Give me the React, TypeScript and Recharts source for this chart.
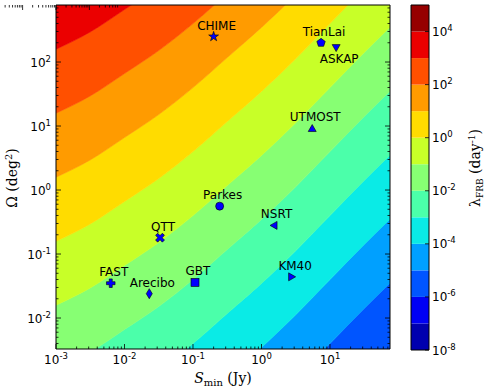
import React from 'react';
import { ComposedChart, Area, Scatter, XAxis, YAxis, BarChart, Bar } from 'recharts';

// log10 Ω (deg²) of the λ_FRB = 1 day⁻¹ contour, read along log10 S_min (Jy)
const contourLogSmin = [-3, -2.5, -2, -1.5, -1, -0.5, 0, 0.5, 1, 1.5, 1.9];
const unitRateLogOmega = [-0.8, -0.53, -0.18, 0.18, 0.6, 1.07, 1.54, 2.05, 2.6, 3.15, 3.57];

// lower edge (log10 day⁻¹) of each filled band, and its colour
const levels = [-8, -7, -6, -5, -4, -3, -2, -1, 0, 1, 2, 3, 4];
const levelColors = [
  '#0000af', '#0000f5', '#0055ff', '#00a0ff', '#0aebe6', '#4bffaa', '#87ff73',
  '#c8ff28', '#ffdc00', '#ff9b00', '#ff5000', '#eb0000', '#960000',
];

// telescopes
const telescopes = ['CHIME', 'TianLai', 'ASKAP', 'UTMOST', 'Parkes', 'QTT', 'NSRT', 'FAST', 'Arecibo', 'GBT', 'KM40'];
const sminJy = [0.2, 7.4, 12.3, 5.5, 0.245, 0.033, 1.5, 0.0063, 0.023, 0.107, 2.8];
const fovDeg2 = [250, 200, 165, 9.3, 0.56, 0.18, 0.28, 0.035, 0.024, 0.036, 0.044];
const markerKinds = ['star', 'pentagon', 'triDown', 'triUp', 'circle', 'x', 'triLeft', 'plus', 'diamond', 'square', 'triRight'];

const xDomain: [number, number] = [-3, 1.876];
const yDomain: [number, number] = [-2.484, 2.891];

const logTicks = (lo: number, hi: number) => {
  const out: number[] = [];
  for (let d = Math.floor(lo); d <= Math.ceil(hi); d++) {
    for (let m = 1; m < 10; m++) {
      const v = d + Math.log10(m);
      if (v >= lo - 1e-9 && v <= hi + 1e-9) out.push(v);
    }
  }
  return out;
};
const xTicks = logTicks(xDomain[0], xDomain[1]);
const yTicks = logTicks(yDomain[0], yDomain[1]);

const bandRows = contourLogSmin.map((x, i) => {
  const row: Record<string, number | number[]> = { x };
  levels.forEach((k, j) => {
    row[`b${j}`] = [k + unitRateLogOmega[i], k + 1 + unitRateLogOmega[i]];
  });
  return row;
});

const points = telescopes.map((name, i) => ({
  name,
  kind: markerKinds[i],
  x: Math.log10(sminJy[i]),
  y: Math.log10(fovDeg2[i]),
}));

const colorbarRow = [Object.fromEntries(levels.map((_, i) => [`c${i}`, 1]))];
const cbTicks = levels.map((_, i) => i).filter((i) => i % 2 === 0);

const SANS = 'DejaVu Sans, sans-serif';
const SERIF = 'DejaVu Serif, serif';

const isMajor = (v: number) => Math.abs(v - Math.round(v)) < 1e-6;

function Pow10({ x, y, exp, anchor }: { x: number; y: number; exp: number; anchor: 'start' | 'middle' | 'end' }) {
  return (
    <text x={x} y={y} textAnchor={anchor} fontFamily={SANS} fontSize={12} fill="#000">
      10
      <tspan dy={-5} fontSize={8.5}>
        {exp < 0 ? `-${-exp}` : `${exp}`}
      </tspan>
    </text>
  );
}

function AxisTick(props: any) {
  const { x, y, payload, side } = props;
  const v = payload.value as number;
  const major = isMajor(v);
  const len = major ? 5 : 2.5;
  let line;
  if (side === 'bottom') line = <line x1={x} x2={x} y1={y} y2={y - len} stroke="#000" strokeWidth={0.8} />;
  else if (side === 'top') line = <line x1={x} x2={x} y1={y} y2={y + len} stroke="#000" strokeWidth={0.8} />;
  else if (side === 'left') line = <line x1={x} x2={x + len} y1={y} y2={y} stroke="#000" strokeWidth={0.8} />;
  else line = <line x1={x} x2={x - len} y1={y} y2={y} stroke="#000" strokeWidth={0.8} />;
  return (
    <g>
      {line}
      {major && side === 'bottom' && <Pow10 x={x} y={y + 14.5} exp={Math.round(v)} anchor="middle" />}
      {major && side === 'left' && <Pow10 x={x - 5} y={y + 4.5} exp={Math.round(v)} anchor="end" />}
    </g>
  );
}

function CbTick(props: any) {
  const { x, y, payload } = props;
  return (
    <g>
      <line x1={x} x2={x - 4} y1={y} y2={y} stroke="#000" strokeWidth={0.8} />
      <Pow10 x={x + 3} y={y + 4.5} exp={levels[0] + payload.value} anchor="start" />
    </g>
  );
}

const XTitle = (props: any) => {
  const vb = props.viewBox;
  return (
    <text x={vb.x + vb.width / 2} y={vb.y + 34} textAnchor="middle" fontFamily={SERIF} fontSize={14} fill="#000">
      <tspan fontStyle="italic">S</tspan>
      <tspan fontSize={10} dy={3}>min</tspan>
      <tspan dy={-3}> (Jy)</tspan>
    </text>
  );
};

const YTitle = (props: any) => {
  const vb = props.viewBox;
  const cx = vb.x + 17;
  const cy = vb.y + vb.height / 2 + 1;
  return (
    <text x={cx} y={cy} transform={`rotate(-90 ${cx} ${cy})`} textAnchor="middle" fontFamily={SERIF} fontSize={14} fill="#000">
      Ω (deg
      <tspan dy={-5} fontSize={10}>2</tspan>
      <tspan dy={5}>)</tspan>
    </text>
  );
};

const CbTitle = (props: any) => {
  const vb = props.viewBox;
  const cx = vb.x + 51;
  const cy = 168;
  return (
    <text x={cx} y={cy} transform={`rotate(-90 ${cx} ${cy})`} textAnchor="middle" fontFamily={SERIF} fontSize={14} fill="#000">
      λ
      <tspan fontSize={9} dy={3}>FRB</tspan>
      <tspan dy={-3}> (day</tspan>
      <tspan dy={-5} fontSize={9}>-1</tspan>
      <tspan dy={5}>)</tspan>
    </text>
  );
};

const star = (ro: number, ri: number) =>
  Array.from({ length: 10 }, (_, i) => {
    const a = (Math.PI / 5) * i - Math.PI / 2;
    const r = i % 2 === 0 ? ro : ri;
    return [r * Math.cos(a), r * Math.sin(a)];
  });
const pentagon = (r: number) =>
  Array.from({ length: 5 }, (_, i) => {
    const a = ((2 * Math.PI) / 5) * i - Math.PI / 2;
    return [r * Math.cos(a), r * Math.sin(a)];
  });
const plus = (r: number, t: number) => [
  [-t, -r], [t, -r], [t, -t], [r, -t], [r, t], [t, t], [t, r], [-t, r], [-t, t], [-r, t], [-r, -t], [-t, -t],
];
const rotate45 = (pts: number[][]) =>
  pts.map(([a, b]) => [(a - b) * Math.SQRT1_2, (a + b) * Math.SQRT1_2]);

function TelescopeMark(props: any) {
  const { cx, cy, payload } = props;
  const style = { fill: '#0000ff', stroke: '#000', strokeWidth: 0.6 };
  const poly = (pts: number[][]) => (
    <polygon points={pts.map(([a, b]) => `${cx + a},${cy + b}`).join(' ')} {...style} />
  );
  let mark;
  switch (payload.kind) {
    case 'circle': mark = <circle cx={cx} cy={cy} r={4} {...style} />; break;
    case 'square': mark = <rect x={cx - 4} y={cy - 4} width={8} height={8} {...style} />; break;
    case 'triUp': mark = poly([[0, -3.5], [4, 3.5], [-4, 3.5]]); break;
    case 'triDown': mark = poly([[0, 3.5], [4, -3.5], [-4, -3.5]]); break;
    case 'triLeft': mark = poly([[-3.5, 0], [3.5, -4], [3.5, 4]]); break;
    case 'triRight': mark = poly([[3.5, 0], [-3.5, -4], [-3.5, 4]]); break;
    case 'star': mark = poly(star(5.2, 2)); break;
    case 'pentagon': mark = poly(pentagon(4.4)); break;
    case 'plus': mark = poly(plus(4.3, 1.5)); break;
    case 'x': mark = poly(rotate45(plus(4.8, 1.5))); break;
    default: mark = poly([[0, -5], [3, 0], [0, 5], [-3, 0]]);
  }
  const below = payload.name === 'ASKAP';
  return (
    <g>
      {mark}
      <text x={cx + 3} y={below ? cy + 15 : cy - 7} textAnchor="middle" fontFamily={SANS} fontSize={12} fill="#000">
        {payload.name}
      </text>
    </g>
  );
}

export default function App() {
  return (
    <div style={{ position: 'absolute', left: 0, top: 0, width: 485, height: 391, background: '#fff' }}>
      <div style={{ position: 'absolute', left: 0, top: 0 }}>
        <ComposedChart width={400} height={391} data={bandRows} margin={{ top: 5, right: 10, bottom: 12, left: 0 }}>
          {levels.map((k, j) => (
            <Area
              key={k}
              type="monotone"
              dataKey={`b${j}`}
              fill={levelColors[j]}
              fillOpacity={1}
              stroke={levelColors[j]}
              strokeWidth={0.6}
              dot={false}
              activeDot={false}
              isAnimationActive={false}
            />
          ))}
          <XAxis
            type="number"
            dataKey="x"
            domain={xDomain}
            allowDataOverflow
            ticks={xTicks}
            interval={0}
            height={30}
            tickSize={0}
            tickMargin={0}
            tickLine={false}
            axisLine={{ stroke: '#000' }}
            tick={(p: any) => <AxisTick {...p} side="bottom" />}
            label={XTitle}
          />
          <XAxis
            xAxisId="top"
            orientation="top"
            mirror
            type="number"
            domain={xDomain}
            allowDataOverflow
            ticks={xTicks}
            interval={0}
            tickSize={0}
            tickMargin={0}
            tickLine={false}
            axisLine={{ stroke: '#000' }}
            tick={(p: any) => <AxisTick {...p} side="top" />}
          />
          <YAxis
            type="number"
            domain={yDomain}
            allowDataOverflow
            ticks={yTicks}
            interval={0}
            width={56}
            tickSize={0}
            tickMargin={0}
            tickLine={false}
            axisLine={{ stroke: '#000' }}
            tick={(p: any) => <AxisTick {...p} side="left" />}
            label={YTitle}
          />
          <YAxis
            yAxisId="right"
            orientation="right"
            mirror
            type="number"
            domain={yDomain}
            allowDataOverflow
            ticks={yTicks}
            interval={0}
            tickSize={0}
            tickMargin={0}
            tickLine={false}
            axisLine={{ stroke: '#000' }}
            tick={(p: any) => <AxisTick {...p} side="right" />}
          />
          <Scatter data={points} dataKey="y" isAnimationActive={false} shape={(p: any) => <TelescopeMark {...p} />} />
        </ComposedChart>
      </div>
      <div style={{ position: 'absolute', left: 400, top: 0 }}>
        <BarChart width={85} height={391} data={colorbarRow} margin={{ top: 5, right: 0, bottom: 41, left: 11 }} barCategoryGap={0}>
          {levels.map((k, i) => (
            <Bar key={k} dataKey={`c${i}`} stackId="cb" fill={levelColors[i]} isAnimationActive={false} />
          ))}
          <XAxis mirror tick={false} tickLine={false} axisLine={{ stroke: '#000' }} />
          <XAxis xAxisId="top" orientation="top" mirror tick={false} tickLine={false} axisLine={{ stroke: '#000' }} />
          <YAxis yAxisId="left" orientation="left" mirror domain={[0, levels.length]} tick={false} tickLine={false} axisLine={{ stroke: '#000' }} />
          <YAxis
            orientation="right"
            width={56}
            domain={[0, levels.length]}
            ticks={cbTicks}
            interval={0}
            tickSize={0}
            tickMargin={0}
            tickLine={false}
            axisLine={{ stroke: '#000' }}
            tick={(p: any) => <CbTick {...p} />}
            label={CbTitle}
          />
        </BarChart>
      </div>
    </div>
  );
}
